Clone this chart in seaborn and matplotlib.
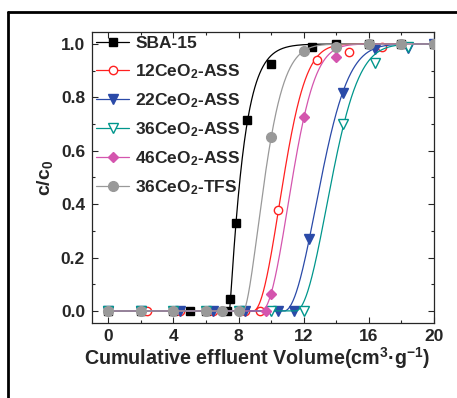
import numpy as np
import matplotlib
matplotlib.use("Agg")
import matplotlib.pyplot as plt
import seaborn as sns
from matplotlib.lines import Line2D
from matplotlib.ticker import MultipleLocator

# data
labels = ["SBA-15", "12CeO$_2$-ASS", "22CeO$_2$-ASS",
          "36CeO$_2$-ASS", "46CeO$_2$-ASS", "36CeO$_2$-TFS"]

sba_x = [0, 2, 4, 5, 6, 7.3, 7.5, 7.85, 8.5, 10.0, 12.5, 14, 16, 18, 20]
sba_y = [0, 0, 0, 0, 0, 0, 0.045, 0.33, 0.715, 0.925, 0.99, 1, 1, 1, 1]

ce12_x = [0, 2.4, 4.4, 6.4, 8.4, 9.3, 10.45, 12.8, 14.8, 16.8]
ce12_y = [0, 0, 0, 0, 0, 0, 0.38, 0.94, 0.97, 0.99]

ce22_x = [0, 2, 4.4, 6.4, 8.4, 10.4, 11.4, 12.3, 14.4, 16.4, 18.4, 20]
ce22_y = [0, 0, 0, 0, 0, 0, 0, 0.27, 0.815, 0.98, 0.985, 1]

ce36_x = [0, 2, 4, 6, 8, 10, 12, 14.4, 16.4, 18.4]
ce36_y = [0, 0, 0, 0, 0, 0, 0, 0.70, 0.93, 0.99]

ce46_x = [0, 2, 4, 6, 8, 9.7, 10.0, 12.0, 14.0, 16, 18, 20]
ce46_y = [0, 0, 0, 0, 0, 0, 0.064, 0.725, 0.95, 1, 1, 1]

tfs_x = [0, 2, 4, 6, 7, 8, 10, 12, 14, 16, 18, 20]
tfs_y = [0, 0, 0, 0, 0, 0, 0.65, 0.975, 0.99, 1, 1, 1]

xs_all = [sba_x, ce12_x, ce22_x, ce36_x, ce46_x, tfs_x]
ys_all = [sba_y, ce12_y, ce22_y, ce36_y, ce46_y, tfs_y]
colors = ["black", "#ff2020", "#2a4aa8", "#00968c", "#d455ae", "#999999"]
markers = ["s", "o", "v", "v", "D", "o"]
filled = [True, False, True, False, True, True]
msizes = [5.5, 6, 6.5, 6.5, 5.5, 7]
# lowest shape exponent allowed in the fit (SBA-15 breaks through sharply)
kmin = [1.0, 2.0, 2.0, 2.0, 2.0, 1.6]


def weibull_fit(x, y, grid, k_lo):
    # weighted least squares Weibull-type breakthrough fit (grid search),
    # baseline zeros get a lower weight so the toe stays smooth
    x = np.asarray(x, float)
    y = np.asarray(y, float)
    w = np.where(y > 0, 1.0, 0.3)
    x0 = np.arange(x.min(), x.max(), 0.05)[:, None, None]
    b = np.arange(0.2, 8, 0.05)[None, :, None]
    best = (np.inf, None)
    for k in np.arange(k_lo, 3.51, 0.1):
        t = np.clip((x[None, None, :] - x0) / b, 0, None)
        err = (w * (1 - np.exp(-t ** k) - y) ** 2).sum(-1)
        i = np.unravel_index(err.argmin(), err.shape)
        if err[i] < best[0]:
            best = (err[i], (x0[i[0], 0, 0], b[0, i[1], 0], k))
    a, bb, k = best[1]
    t = np.clip((grid - a) / bb, 0, None)
    return 1 - np.exp(-t ** k)


sns.set_style("ticks")
plt.rcParams["font.family"] = ["Liberation Sans", "DejaVu Sans"]
plt.rcParams["font.weight"] = "bold"
plt.rcParams["mathtext.fontset"] = "custom"
plt.rcParams["mathtext.rm"] = "Liberation Sans:bold"
plt.rcParams["mathtext.it"] = "Liberation Sans:bold"
plt.rcParams["mathtext.bf"] = "Liberation Sans:bold"

fig = plt.figure(figsize=(4.57, 3.98), dpi=100)
ax = fig.add_axes([92 / 457, 1 - 323 / 398, 342 / 457, 291 / 398])

grid = np.linspace(0, 20, 801)
handles = []
for i in range(6):
    fit = weibull_fit(xs_all[i], ys_all[i], grid, kmin[i])
    sns.lineplot(x=grid, y=fit, color=colors[i], lw=0.9, ax=ax, zorder=2 + i)
    ax.plot(xs_all[i], ys_all[i], ls="none", marker=markers[i], ms=msizes[i],
            mfc=colors[i] if filled[i] else "white", mec=colors[i],
            mew=1.0, zorder=2 + i)
    handles.append(Line2D([], [], color=colors[i], lw=0.9, marker=markers[i],
                          ms=msizes[i], mec=colors[i], mew=1.0,
                          mfc=colors[i] if filled[i] else "white"))

ax.set_xlim(-1, 20)
ax.set_ylim(-0.045, 1.045)
ax.xaxis.set_major_locator(MultipleLocator(4))
ax.xaxis.set_minor_locator(MultipleLocator(2))
ax.yaxis.set_major_locator(MultipleLocator(0.2))
ax.yaxis.set_minor_locator(MultipleLocator(0.1))
ax.yaxis.set_major_formatter(plt.FormatStrFormatter("%.1f"))
ax.tick_params(which="both", direction="in", top=True, right=True,
               labelsize=12.5, width=0.8)
ax.tick_params(which="major", length=4.5)
ax.tick_params(which="minor", length=2.5)
ax.tick_params(axis="x", pad=4)
ax.tick_params(axis="y", pad=5)
for s in ax.spines.values():
    s.set_linewidth(0.9)

ax.set_xlabel("Cumulative effluent Volume(cm$^3$·g$^{-1}$)", fontsize=14.2,
              fontweight="bold", labelpad=1)
ax.xaxis.set_label_coords(0.482, -0.075, transform=ax.transAxes)
ax.xaxis.label.set_va("top")
ax.set_ylabel("c/c$_0$", fontsize=14, fontweight="bold", labelpad=4)

ax.legend(handles, labels, loc="upper left", frameon=False, fontsize=12.5,
          handlelength=1.9, handletextpad=0.35, labelspacing=0.6,
          borderaxespad=0.1, borderpad=0.15)

# outer frame of the panel
fig.add_artist(Line2D([8 / 457, 8 / 457], [0, 1 - 12 / 398],
                      transform=fig.transFigure, color="black", lw=2))
fig.add_artist(Line2D([8 / 457, 1], [1 - 12 / 398, 1 - 12 / 398],
                      transform=fig.transFigure, color="black", lw=2))

fig.savefig("out.png", dpi=100)
